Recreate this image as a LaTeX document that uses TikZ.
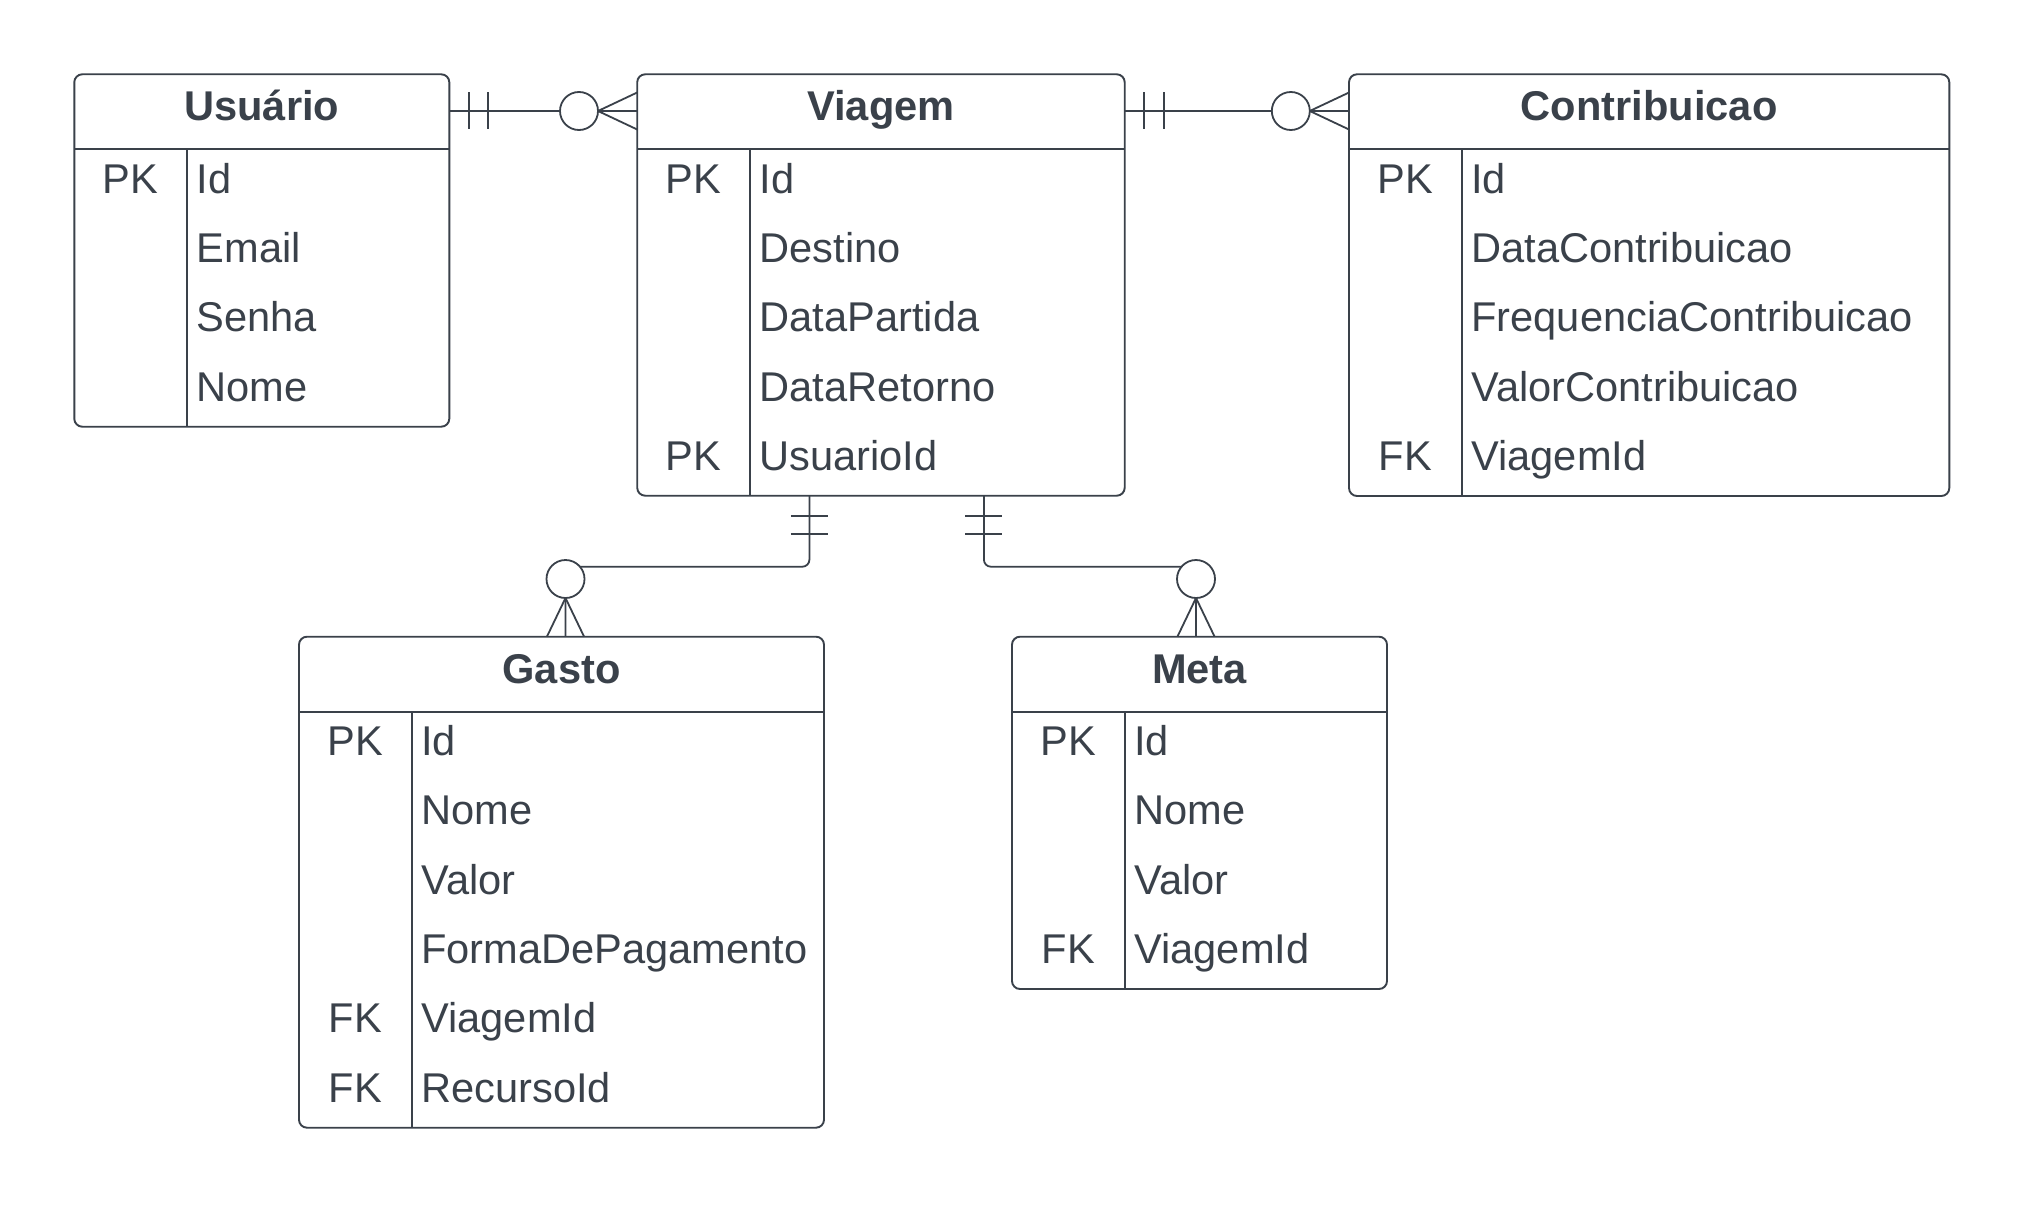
\documentclass[tikz,border=0pt]{standalone}
\usepackage{fontspec}
\setmainfont{Liberation Sans}
\usetikzlibrary{calc}
\definecolor{ink}{HTML}{3A414A}
\tikzset{
  ln/.style={draw=ink, line width=1.8pt},
  tbl/.style={draw=ink, line width=1.9pt, fill=white, rectangle, rounded corners=8pt, inner sep=0pt, outer sep=0pt, anchor=north west},
  ttl/.style={text=ink, inner sep=0pt, anchor=base, font=\fontsize{41.6}{49}\selectfont\bfseries},
  keytxt/.style={text=ink, inner sep=0pt, anchor=base, font=\fontsize{41.6}{49}\selectfont},
  fldtxt/.style={text=ink, inner sep=0pt, anchor=base west, font=\fontsize{41.6}{49}\selectfont},
  ringmark/.style={draw=ink, line width=1.8pt, fill=white},
}
\newcommand{\erbox}[6]{%
  \node[tbl, minimum width=#4pt, minimum height=#5pt] (#1) at (#2,#3) {};
  \draw[ln] ($(#1.north west)+(0,75)$) -- ($(#1.north east)+(0,75)$);
  \draw[ln] ($(#1.north west)+(112.7,75)$) -- ($(#1.south west)+(112.7,0)$);
  \node[ttl] (#1-t) at ($(#1.north)+(0,46.4)$) {#6};
}
\newcommand{\erfield}[3]{%
  \node[fldtxt] (#1-f#2) at ($(#1.north west)+(122.2,{118.9+69.3*(#2-1)})$) {#3};
}
\newcommand{\erkey}[3]{%
  \node[keytxt] (#1-k#2) at ($(#1.north west)+(56.35,{118.9+69.3*(#2-1)})$) {#3};
}
\begin{document}
\begin{tikzpicture}[x=1pt,y=-1pt]
\useasboundingbox[fill=white] (0,0) rectangle (2025,1204);

% ---------- tables ----------
\erbox{usuario}{74.3}{74.3}{375}{352.4}{Usuário}
\erkey{usuario}{1}{PK}
\erfield{usuario}{1}{Id}
\erfield{usuario}{2}{Email}
\erfield{usuario}{3}{Senha}
\erfield{usuario}{4}{Nome}

\erbox{viagem}{637.2}{74.3}{487.5}{421.4}{Viagem}
\erkey{viagem}{1}{PK}
\erkey{viagem}{5}{PK}
\erfield{viagem}{1}{Id}
\erfield{viagem}{2}{Destino}
\erfield{viagem}{3}{DataPartida}
\erfield{viagem}{4}{DataRetorno}
\erfield{viagem}{5}{UsuarioId}

\erbox{contrib}{1349}{74.3}{600.3}{421.7}{Contribuicao}
\erkey{contrib}{1}{PK}
\erkey{contrib}{5}{FK}
\erfield{contrib}{1}{Id}
\erfield{contrib}{2}{DataContribuicao}
\erfield{contrib}{3}{FrequenciaContribuicao}
\erfield{contrib}{4}{ValorContribuicao}
\erfield{contrib}{5}{ViagemId}

\erbox{gasto}{299}{636.7}{525}{491}{Gasto}
\erkey{gasto}{1}{PK}
\erkey{gasto}{5}{FK}
\erkey{gasto}{6}{FK}
\erfield{gasto}{1}{Id}
\erfield{gasto}{2}{Nome}
\erfield{gasto}{3}{Valor}
\erfield{gasto}{4}{FormaDePagamento}
\erfield{gasto}{5}{ViagemId}
\erfield{gasto}{6}{RecursoId}

\erbox{meta}{1012}{636.7}{375}{352.3}{Meta}
\erkey{meta}{1}{PK}
\erkey{meta}{4}{FK}
\erfield{meta}{1}{Id}
\erfield{meta}{2}{Nome}
\erfield{meta}{3}{Valor}
\erfield{meta}{4}{ViagemId}

% ---------- connector end points ----------
\coordinate (c1a) at ($(usuario.north east)+(0,36.7)$);
\coordinate (c1b) at ($(viagem.north west)+(0,36.7)$);
\coordinate (c2a) at ($(viagem.north east)+(0,36.7)$);
\coordinate (c2b) at ($(contrib.north west)+(0,36.7)$);
\coordinate (c3a) at ($(viagem.south west)+(172.2,0)$);
\coordinate (c3b) at ($(gasto.north west)+(266.5,0)$);
\coordinate (c4a) at ($(viagem.south west)+(346.7,0)$);
\coordinate (c4b) at ($(meta.north west)+(184,0)$);

% ---------- Usuario -> Viagem ----------
\draw[ln] (c1a) -- (c1b);
\draw[ln] ($(c1a)+(19.4,-18.5)$) -- ($(c1a)+(19.4,18.5)$);
\draw[ln] ($(c1a)+(39,-18.5)$) -- ($(c1a)+(39,18.5)$);
\draw[ln] ($(c1b)+(-39.2,0)$) -- ($(c1b)+(0,-18.5)$);
\draw[ln] ($(c1b)+(-39.2,0)$) -- ($(c1b)+(0,18.5)$);
\draw[ringmark] ($(c1b)+(-58.2,0)$) circle[radius=19];

% ---------- Viagem -> Contribuicao ----------
\draw[ln] (c2a) -- (c2b);
\draw[ln] ($(c2a)+(19.4,-18.5)$) -- ($(c2a)+(19.4,18.5)$);
\draw[ln] ($(c2a)+(39,-18.5)$) -- ($(c2a)+(39,18.5)$);
\draw[ln] ($(c2b)+(-39.2,0)$) -- ($(c2b)+(0,-18.5)$);
\draw[ln] ($(c2b)+(-39.2,0)$) -- ($(c2b)+(0,18.5)$);
\draw[ringmark] ($(c2b)+(-58.2,0)$) circle[radius=19];

% ---------- Viagem -> Gasto ----------
\draw[ln, rounded corners=7pt] (c3a) -- ($(c3a)+(0,71)$) -| (c3b);
\draw[ln] ($(c3a)+(-18.5,20)$) -- ($(c3a)+(18.5,20)$);
\draw[ln] ($(c3a)+(-18.5,38.6)$) -- ($(c3a)+(18.5,38.6)$);
\draw[ln] ($(c3b)+(0,-38.7)$) -- ($(c3b)+(-18.6,0)$);
\draw[ln] ($(c3b)+(0,-38.7)$) -- ($(c3b)+(18.6,0)$);
\draw[ringmark] ($(c3b)+(0,-57.7)$) circle[radius=19];

% ---------- Viagem -> Meta ----------
\draw[ln, rounded corners=7pt] (c4a) -- ($(c4a)+(0,71)$) -| (c4b);
\draw[ln] ($(c4a)+(-18.5,20)$) -- ($(c4a)+(18.5,20)$);
\draw[ln] ($(c4a)+(-18.5,38.6)$) -- ($(c4a)+(18.5,38.6)$);
\draw[ln] ($(c4b)+(0,-38.7)$) -- ($(c4b)+(-18.6,0)$);
\draw[ln] ($(c4b)+(0,-38.7)$) -- ($(c4b)+(18.6,0)$);
\draw[ringmark] ($(c4b)+(0,-57.7)$) circle[radius=19];
\end{tikzpicture}
\end{document}
